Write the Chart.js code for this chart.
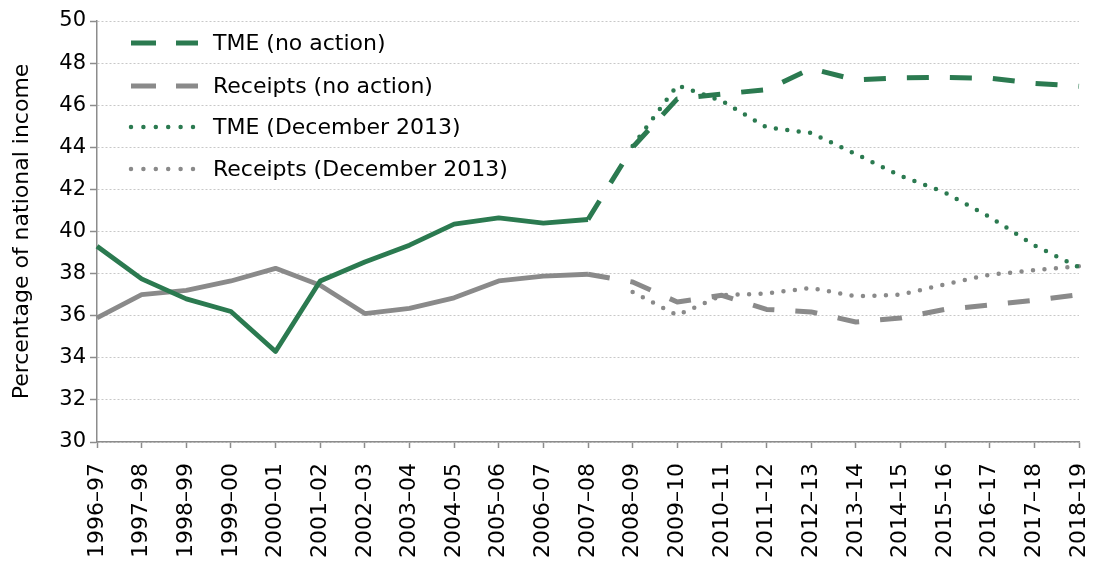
<!DOCTYPE html>
<html>
<head>
<meta charset="utf-8">
<script src="https://cdn.jsdelivr.net/npm/chart.js@4"></script>
<style>
  html, body { margin: 0; padding: 0; background: #fff; }
  #wrap { width: 1093px; height: 563px; }
</style>
</head>
<body>
<div id="wrap"><canvas id="chart"></canvas></div>
<script>
const years = ['1996–97', '1997–98', '1998–99', '1999–00', '2000–01', '2001–02', '2002–03', '2003–04',
    '2004–05', '2005–06', '2006–07', '2007–08', '2008–09', '2009–10', '2010–11', '2011–12', '2012–13',
    '2013–14', '2014–15', '2015–16', '2016–17', '2017–18', '2018–19'];

// outturn up to 2007-08
const tmeOutturn = [39.3, 37.75, 36.8, 36.2, 34.3, 37.65, 38.55, 39.35, 40.35, 40.65, 40.4, 40.57,
    null, null, null, null, null, null, null, null, null, null, null];
const receiptsOutturn = [35.9, 37.0, 37.2, 37.65, 38.25, 37.45, 36.1, 36.35, 36.85, 37.65, 37.88, 37.97,
    null, null, null, null, null, null, null, null, null, null, null];

// projections
const tmeNoAction = [null, null, null, null, null, null, null, null, null, null, null, 40.57,
    44.0, 46.3, 46.53, 46.74, 47.74, 47.2, 47.3, 47.32, 47.28, 47.04, 46.9];
const receiptsNoAction = [null, null, null, null, null, null, null, null, null, null, null, 37.97,
    37.6, 36.65, 36.97, 36.3, 36.18, 35.7, 35.89, 36.3, 36.51, 36.73, 37.0];
const tmeDec2013 = [null, null, null, null, null, null, null, null, null, null, null, null,
    44.06, 46.95, 46.2, 44.95, 44.68, 43.68, 42.65, 41.85, 40.69, 39.34, 38.3];
const receiptsDec2013 = [null, null, null, null, null, null, null, null, null, null, null, null,
    37.13, 36.02, 36.97, 37.06, 37.32, 36.92, 37.0, 37.49, 37.95, 38.16, 38.35];

const GREEN = '#2b7a50';
const GREY = '#8a8a8a';
const FONT = "'DejaVu Sans', sans-serif";

const legendItems = [
    {label: 'TME (no action)', color: GREEN, width: 5, dash: [25, 20], cap: 'butt'},
    {label: 'Receipts (no action)', color: GREY, width: 5, dash: [25, 20], cap: 'butt'},
    {label: 'TME (December 2013)', color: GREEN, width: 4.5, dash: [0, 12.4], cap: 'round'},
    {label: 'Receipts (December 2013)', color: GREY, width: 4.5, dash: [0, 12.4], cap: 'round'}
];

// legend sits inside the plot, top left
const insideLegend = {
    id: 'insideLegend',
    afterDraw(chart) {
        const ctx = chart.ctx;
        const rows = [43, 86, 127, 169];
        ctx.save();
        legendItems.forEach((item, i) => {
            const y = rows[i];
            ctx.beginPath();
            ctx.strokeStyle = item.color;
            ctx.lineWidth = item.width;
            ctx.lineCap = item.cap;
            ctx.setLineDash(item.dash);
            ctx.moveTo(131, y);
            ctx.lineTo(198, y);
            ctx.stroke();
            ctx.setLineDash([]);
            ctx.fillStyle = '#000';
            ctx.font = `22px ${FONT}`;
            ctx.textBaseline = 'middle';
            ctx.fillText(item.label, 213, y + 1);
        });
        ctx.restore();
    }
};

function line(data, color, width, dash, cap) {
    return {
        data: data,
        borderColor: color,
        backgroundColor: color,
        borderWidth: width,
        borderDash: dash,
        borderCapStyle: cap,
        borderJoinStyle: 'round',
        pointRadius: 0,
        pointHoverRadius: 0,
        tension: 0,
        fill: false,
        spanGaps: false
    };
}

const ctx = document.getElementById('chart').getContext('2d');
new Chart(ctx, {
    type: 'line',
    data: {
        labels: years,
        datasets: [
            line(tmeNoAction, GREEN, 5, [22, 21], 'butt'),
            line(receiptsNoAction, GREY, 5, [22, 21], 'butt'),
            line(tmeDec2013, GREEN, 4.5, [0, 11.5], 'round'),
            line(receiptsDec2013, GREY, 4.5, [0, 11.5], 'round'),
            line(tmeOutturn, GREEN, 4.8, [], 'butt'),
            line(receiptsOutturn, GREY, 4.8, [], 'butt')
        ]
    },
    options: {
        responsive: true,
        maintainAspectRatio: false,
        animation: false,
        layout: {padding: {top: 21, right: 0, left: 0, bottom: 0}},
        plugins: {legend: {display: false}, tooltip: {enabled: false}},
        scales: {
            x: {
                offset: false,
                border: {display: true, color: '#8c8c8c', width: 1.5},
                grid: {drawOnChartArea: false, drawTicks: true, tickLength: 6, tickColor: '#8c8c8c', tickWidth: 1.5},
                ticks: {
                    autoSkip: false, maxRotation: 90, minRotation: 90,
                    color: '#000', padding: 15,
                    font: {family: FONT, size: 22}
                },
                afterFit(scale) {
                    scale.height = 121;
                    scale.paddingRight = 14;
                }
            },
            y: {
                min: 30, max: 50,
                border: {display: true, color: '#8c8c8c', width: 1.5, dash: [2, 2]},
                grid: {
                    color: '#c8c8c8', lineWidth: 1,
                    drawTicks: true, tickLength: 7, tickColor: '#8c8c8c', tickWidth: 1.5, tickBorderDash: []
                },
                ticks: {stepSize: 2, color: '#000', padding: 4, font: {family: FONT, size: 21}},
                title: {
                    display: true, text: 'Percentage of national income',
                    color: '#000', padding: {top: 9, bottom: 0},
                    font: {family: FONT, size: 22}
                },
                afterFit(scale) { scale.width = 97; }
            }
        }
    },
    plugins: [insideLegend]
});
</script>
</body>
</html>
